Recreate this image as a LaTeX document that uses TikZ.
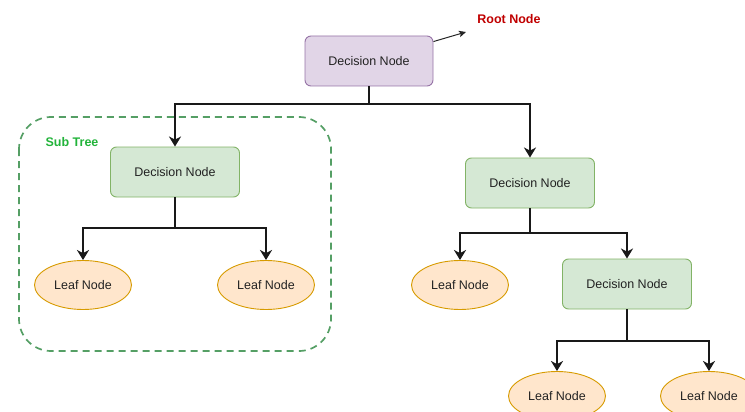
\documentclass[tikz,border=0pt]{standalone}
\usepackage{fontspec}
\setmainfont{Liberation Sans}
\usetikzlibrary{shapes.geometric,arrows.meta}

\definecolor{rootfill}{HTML}{E1D5E7}
\definecolor{rootline}{HTML}{9673A6}
\definecolor{decfill}{HTML}{D5E8D4}
\definecolor{decline}{HTML}{82B366}
\definecolor{leaffill}{HTML}{FFE6CC}
\definecolor{leafline}{HTML}{D79B00}
\definecolor{rootred}{HTML}{C00000}
\definecolor{subgreen}{HTML}{22B33A}
\definecolor{boxgreen}{HTML}{559F65}
\definecolor{textgray}{HTML}{222222}

\tikzset{
  nodefont/.style={font=\fontsize{12.5}{14}\selectfont, text=textgray},
  rootbox/.style={draw=rootline, fill=rootfill, line width=0.9pt, rounded corners=6pt,
    minimum width=128pt, minimum height=50pt, inner sep=0pt, nodefont},
  decbox/.style={draw=decline, fill=decfill, line width=0.9pt, rounded corners=6pt,
    minimum width=129pt, minimum height=50pt, inner sep=0pt, nodefont},
  leaf/.style={ellipse, draw=leafline, fill=leaffill, line width=0.9pt,
    minimum width=97pt, minimum height=49pt, inner sep=0pt, nodefont},
  arr/.style={line width=2pt, draw=black!90,
    -{Stealth[length=10pt, width=12pt, inset=3pt]}},
  thinarr/.style={line width=1pt, draw=black!85,
    -{Stealth[length=7pt, width=6.5pt, inset=1.5pt]}},
  subtreebox/.style={draw=boxgreen, line width=1.7pt, dash pattern=on 7pt off 5pt,
    rounded corners=32pt},
  lbl/.style={font=\bfseries\fontsize{12.5}{14}\selectfont, inner sep=0pt}
}

\begin{document}
\begin{tikzpicture}[x=1pt, y=-1pt]
  \useasboundingbox (0,0) rectangle (745,412);
  \clip (0,0) rectangle (745,412);

  % dashed frame around the left sub tree
  \draw[subtreebox] (19,117) rectangle (331,351);
  \node[lbl, text=subgreen] (sublbl) at (72,142) {Sub Tree};

  % nodes
  \node[rootbox] (root) at (369,61) {Decision Node};
  \node[decbox]  (d1)   at (175,172) {Decision Node};
  \node[decbox]  (d2)   at (530,183) {Decision Node};
  \node[decbox]  (d3)   at (627,284) {Decision Node};

  \node[leaf] (l1) at (83,285)  {Leaf Node};
  \node[leaf] (l2) at (266,285) {Leaf Node};
  \node[leaf] (l3) at (460,285) {Leaf Node};
  \node[leaf] (l4) at (557,396) {Leaf Node};
  \node[leaf] (l5) at (709,396) {Leaf Node};

  % root label and pointer
  \node[lbl, text=rootred] (rootlbl) at (509,19) {Root Node};
  \coordinate (tip) at (466,32);
  \draw[thinarr] (root.north east) ++(0,6) coordinate (rs) -- (tip);

  % tree connectors
  \draw[arr] (root.south) -- ++(0,18) -| (d1.north);
  \draw[arr] (root.south) -- ++(0,18) -| (d2.north);

  \draw[arr] (d1.south) -- ++(0,31) -| (l1.north);
  \draw[arr] (d1.south) -- ++(0,31) -| (l2.north);

  \draw[arr] (d2.south) -- ++(0,25) -| (l3.north);
  \draw[arr] (d2.south) -- ++(0,25) -| (d3.north);

  \draw[arr] (d3.south) -- ++(0,32) -| (l4.north);
  \draw[arr] (d3.south) -- ++(0,32) -| (l5.north);
\end{tikzpicture}
\end{document}
